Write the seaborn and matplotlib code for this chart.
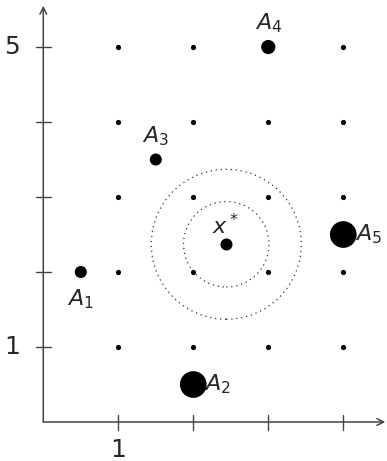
import matplotlib
matplotlib.use("Agg")
import matplotlib.pyplot as plt
import seaborn as sns
import pandas as pd
from matplotlib.patches import Circle

sns.set_theme(style="white")
plt.rcParams['font.family'] = ['DejaVu Sans']
plt.rcParams['mathtext.fontset'] = 'dejavusans'

# Data
grid_x = [1, 2, 3, 4]
grid_y = [1, 2, 3, 4, 5]
point_names = ["A_1", "A_2", "A_3", "A_4", "A_5"]
point_x = [0.5, 2.0, 1.5, 3.0, 4.0]
point_y = [2.0, 0.5, 3.5, 5.0, 2.5]
point_w = [1, 4, 1, 1.3, 4]
opt_x = [2.44]
opt_y = [2.37]
circle_r = [0.57, 1.0]
xtick_labels = {1: "1"}
ytick_labels = {1: "1", 5: "5"}

fig = plt.figure(figsize=(3.87, 4.61), dpi=100)
ax = fig.add_axes([0, 0, 1, 1])
ax.set_xlim(-0.577, 4.583)
ax.set_ylim(-0.52, 5.627)
ax.set_axis_off()

# grid dots
gdf = pd.DataFrame([(x, y) for x in grid_x for y in grid_y], columns=["x", "y"])
sns.scatterplot(data=gdf, x="x", y="y", ax=ax, s=14, color="black", linewidth=0, legend=False, zorder=3)

# points with weights
pdf = pd.DataFrame({"x": point_x, "y": point_y, "w": point_w, "name": point_names})
sns.scatterplot(data=pdf, x="x", y="y", size="w", sizes=(75, 370), ax=ax, color="black",
                linewidth=0, legend=False, zorder=4)

# optimum
odf = pd.DataFrame({"x": opt_x, "y": opt_y})
sns.scatterplot(data=odf, x="x", y="y", ax=ax, s=75, color="black", linewidth=0, legend=False, zorder=4)
for r in circle_r:
    ax.add_patch(Circle((opt_x[0], opt_y[0]), r, fill=False, linestyle=(0, (1, 3)),
                        linewidth=0.9, edgecolor="#333333", zorder=2))
ax.annotate(r"$x^*$", (opt_x[0], opt_y[0]), xytext=(-1, 19), textcoords="offset pixels",
            ha="center", va="center", fontsize=16)

# labels
offsets = {"A_1": (0, -27, "center"), "A_2": (11, 0, "left"), "A_3": (0, 23, "center"),
           "A_4": (0, 24, "center"), "A_5": (12, 0, "left")}
for n, x, y in zip(point_names, point_x, point_y):
    dx, dy, ha = offsets[n]
    ax.annotate(f"${n}$", (x, y), xytext=(dx, dy), textcoords="offset pixels",
                ha=ha, va="center", fontsize=16)

# axes with arrows
axcol = "#444444"
ax.annotate("", xy=(4.56, 0), xytext=(0, 0),
            arrowprops=dict(arrowstyle="->", color=axcol, lw=1.1, shrinkA=0, shrinkB=0))
ax.annotate("", xy=(0, 5.55), xytext=(0, 0),
            arrowprops=dict(arrowstyle="->", color=axcol, lw=1.1, shrinkA=0, shrinkB=0))
for x in grid_x:
    ax.plot([x, x], [-0.1, 0.1], color=axcol, lw=1.0)
for y in grid_y:
    ax.plot([-0.1, 0.1], [y, y], color=axcol, lw=1.0)
for x, t in xtick_labels.items():
    ax.text(x, -0.373, t, ha="center", va="center", fontsize=18)
for y, t in ytick_labels.items():
    ax.text(-0.31, y, t, ha="right", va="center", fontsize=18)

fig.savefig("out.png", dpi=100)
